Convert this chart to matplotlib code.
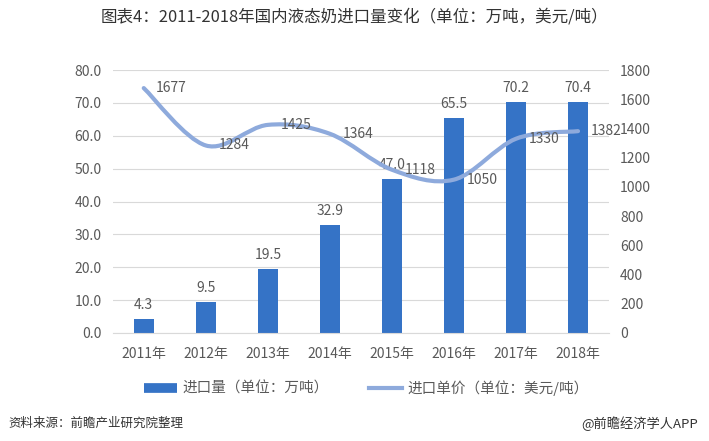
import matplotlib
matplotlib.use('Agg')
import matplotlib.pyplot as plt
from matplotlib.path import Path
from matplotlib.patches import PathPatch
from matplotlib.lines import Line2D
import numpy as np

plt.rcParams['font.family'] = ['Noto Sans CJK SC', 'DejaVu Sans']

years = ['2011年', '2012年', '2013年', '2014年', '2015年', '2016年', '2017年', '2018年']
volume = [4.3, 9.5, 19.5, 32.9, 47.0, 65.5, 70.2, 70.4]
price = [1677, 1284, 1425, 1364, 1118, 1050, 1330, 1382]

bar_color = '#3573c6'
line_color = '#8eaadc'
text_color = '#595959'

fig = plt.figure(figsize=(7.09, 4.41), dpi=100)
ax = fig.add_axes([0.159, 0.245, 0.700, 0.596])
ax2 = ax.twinx()

x = np.arange(len(years))
ax.bar(x, volume, width=0.33, color=bar_color, zorder=2)
for xi, v in zip(x, volume):
    ax.annotate('%.1f' % v, (xi, v), xytext=(0, 5), textcoords='offset points',
                ha='center', va='bottom', fontsize=10, color=text_color)

ax.set_xlim(-0.5, len(years) - 0.5)
ax.set_ylim(0, 80)
ax.set_yticks(np.arange(0, 81, 10))
ax.set_yticklabels(['%.1f' % t for t in np.arange(0, 81, 10)])
ax.set_xticks(x)
ax.set_xticklabels(years)
ax.grid(axis='y', color='#d9d9d9', linewidth=0.8, zorder=0)
ax.set_axisbelow(True)

# smoothed line, bezier through the data points like Excel does
pts = np.column_stack([x, price]).astype(float)
verts = [pts[0]]
codes = [Path.MOVETO]
n = len(pts)
for i in range(n - 1):
    p0 = pts[i - 1] if i > 0 else pts[i]
    p1 = pts[i]
    p2 = pts[i + 1]
    p3 = pts[i + 2] if i + 2 < n else pts[i + 1]
    c1 = p1 + (p2 - p0) / 6.0
    c2 = p2 - (p3 - p1) / 6.0
    verts += [c1, c2, p2]
    codes += [Path.CURVE4] * 3
ax2.add_patch(PathPatch(Path(verts, codes), facecolor='none', edgecolor=line_color,
                        linewidth=3, capstyle='round', zorder=3))
for xi, p in zip(x, price):
    ax2.annotate(str(p), (xi, p), xytext=(9, 0), textcoords='offset points',
                 ha='left', va='center', fontsize=10, color=text_color)
ax2.set_ylim(0, 1800)
ax2.set_yticks(np.arange(0, 1801, 200))

for a in (ax, ax2):
    for s in a.spines.values():
        s.set_visible(False)
    a.tick_params(length=0, labelsize=10, colors=text_color, pad=8)
ax.spines['bottom'].set_visible(True)
ax.spines['bottom'].set_color('#d9d9d9')
ax.tick_params(axis='x', pad=10)

handles = [Line2D([0], [0], color=bar_color, linewidth=7, solid_capstyle='butt'),
           Line2D([0], [0], color=line_color, linewidth=3)]
fig.legend(handles, ['进口量（单位：万吨）', '进口单价（单位：美元/吨）'],
           loc='center', bbox_to_anchor=(0.517, 0.12), ncol=2, frameon=False,
           fontsize=10.5, labelcolor=text_color, handlelength=2.2, columnspacing=2.8,
           handletextpad=0.4)

fig.text(0.5, 0.962, '图表4：2011-2018年国内液态奶进口量变化（单位：万吨，美元/吨）',
         ha='center', va='center', fontsize=11.9, color='#333333')
fig.text(0.012, 0.04, '资料来源：前瞻产业研究院整理', ha='left', va='center',
         fontsize=9, color='#333333', style='italic')
fig.text(0.985, 0.04, '@前瞻经济学人APP', ha='right', va='center',
         fontsize=9.5, color='#333333')

fig.savefig('out.png', dpi=100)
